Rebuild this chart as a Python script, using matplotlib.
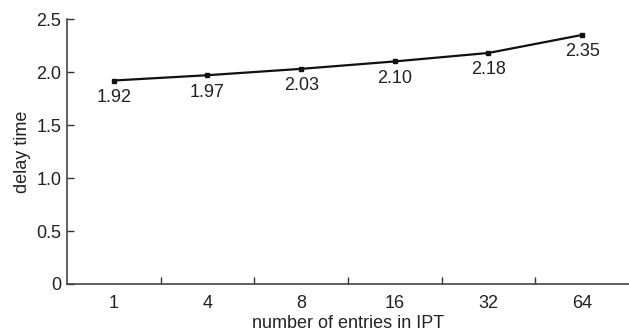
import matplotlib
matplotlib.use("Agg")
import matplotlib.pyplot as plt

categories = ["1", "4", "8", "16", "32", "64"]
delay = [1.92, 1.97, 2.03, 2.10, 2.18, 2.35]
yticks = [0, 0.5, 1.0, 1.5, 2.0, 2.5]
ytick_labels = ["0", "0.5", "1.0", "1.5", "2.0", "2.5"]

FS = 13
plt.rcParams['font.family'] = ['Liberation Sans', 'DejaVu Sans']
fig = plt.figure(figsize=(6.29, 3.31), dpi=100)
ax = fig.add_axes([0.1065, 0.142, 0.8935, 0.8005])

x = list(range(len(categories)))
ax.plot(x, delay, color='#111111', lw=1.6, marker='s', ms=3, mfc='#111111', mec='#111111')
for xi, v in zip(x, delay):
    ax.annotate(f"{v:.2f}", (xi, v), xytext=(0, -6), textcoords='offset points',
                ha='center', va='top', fontsize=FS, color='#222222')

ax.set_xlim(-0.5, len(categories) - 0.5)
ax.set_ylim(0, 2.5)
ax.set_yticks(yticks)
ax.set_yticklabels(ytick_labels)
ax.set_xticks(x)
ax.set_xticklabels(categories)
ax.set_xticks([i + 0.5 for i in x[:-1]], minor=True)
ax.tick_params(axis='x', which='major', length=0, pad=8, labelsize=FS, colors='#222222')
ax.tick_params(axis='x', which='minor', direction='in', length=5, width=1, color='#333333')
ax.tick_params(axis='y', direction='in', length=5, width=1, color='#333333', labelsize=FS, labelcolor='#222222', pad=4)

for s in ['top', 'right']:
    ax.spines[s].set_visible(False)
for s in ['left', 'bottom']:
    ax.spines[s].set_color('#444444')
    ax.spines[s].set_linewidth(1.2)

ax.set_xlabel("number of entries in IPT", fontsize=FS, color='#222222', labelpad=2)
ax.set_ylabel("delay time", fontsize=FS, color='#222222', labelpad=4)

fig.savefig("out.png", dpi=100)
